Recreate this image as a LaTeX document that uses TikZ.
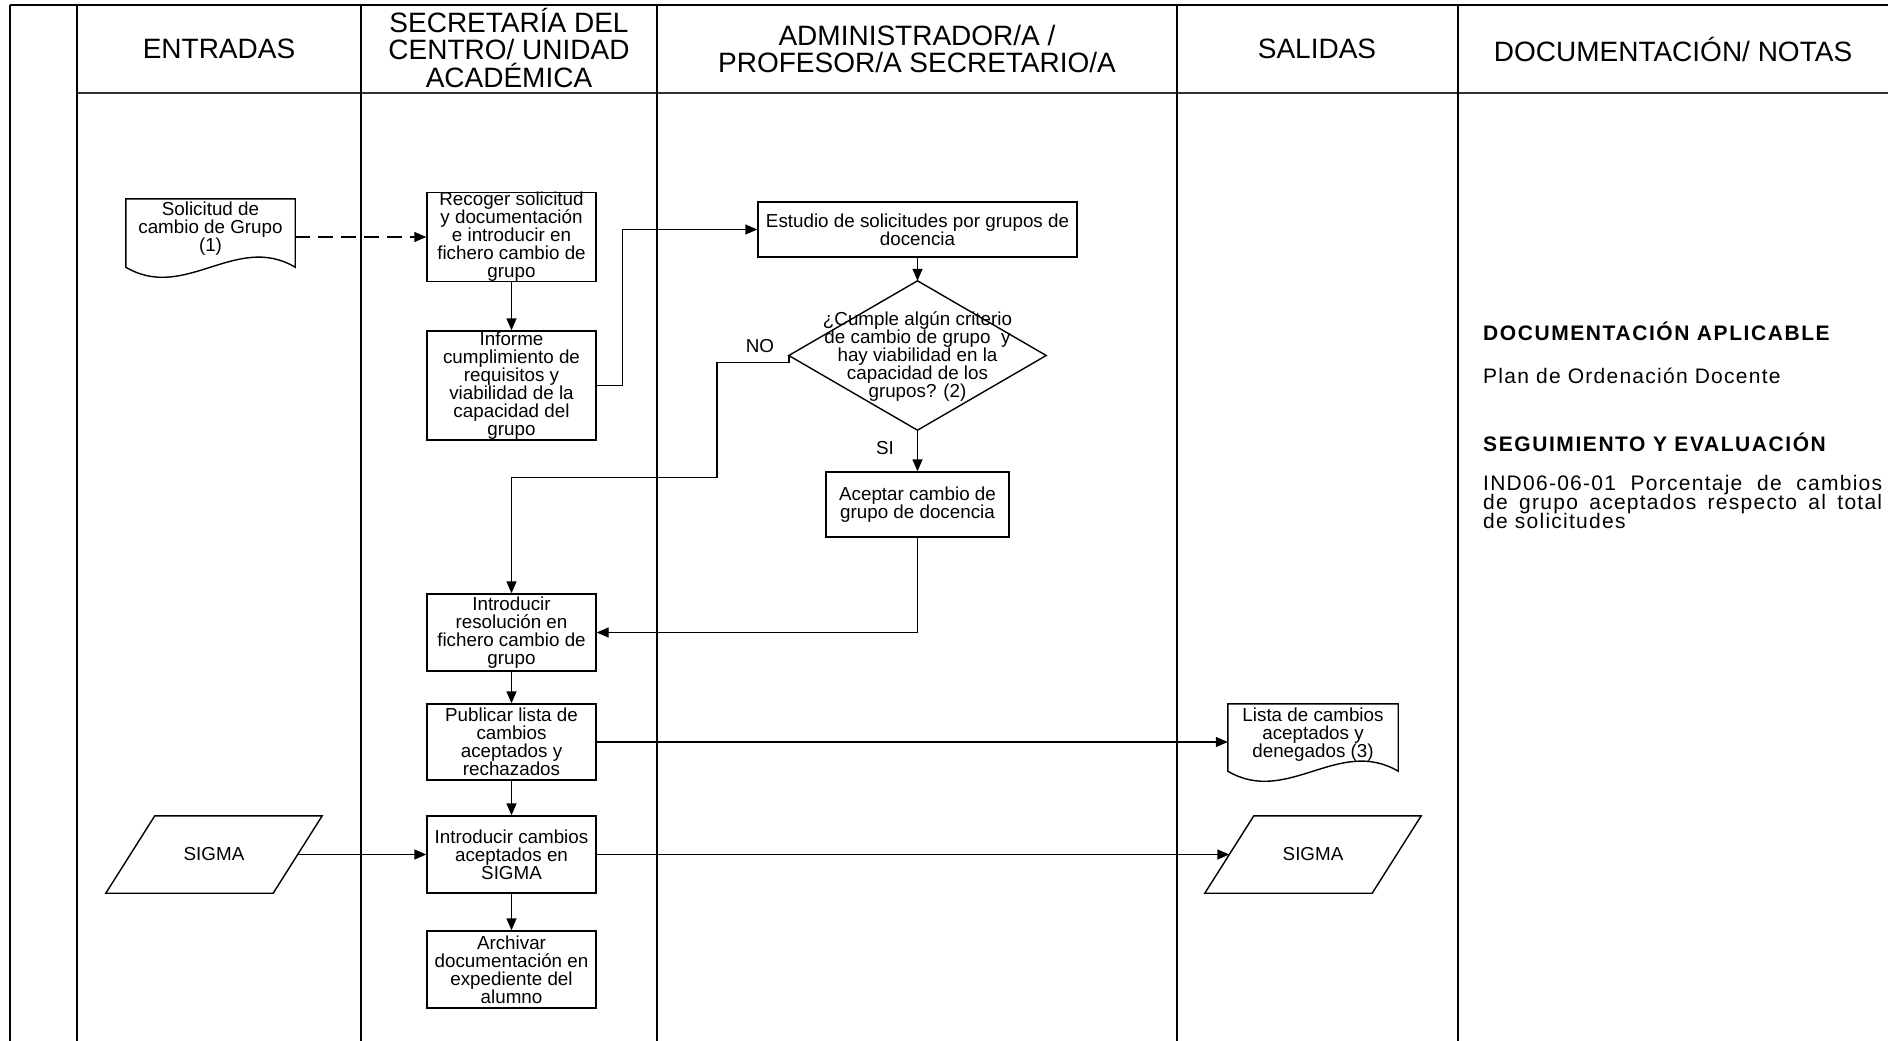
\documentclass[tikz,border=0pt]{standalone}
\usepackage{fontspec}
\setmainfont{Liberation Sans}
\newfontfamily\hdrfont{Liberation Sans}
\newfontfamily\boxfnt{Liberation Sans}
\newfontfamily\notefnt[LetterSpace=6]{Liberation Sans}
\newfontfamily\notebf[LetterSpace=7.5]{Liberation Sans}
\newcommand\nolsk{\lineskiplimit-100pt\relax}
\usetikzlibrary{arrows.meta,calc}
\begin{document}
\begin{tikzpicture}[x=1pt,y=-1pt,
  lane/.style={line width=2.4pt, black},
  hdr/.style={font={\hdrfont\fontsize{28}{27.5}\selectfont\nolsk}, align=center, inner sep=0},
  procbox/.style={draw, line width=1.4pt, inner sep=0, align=center, font={\boxfnt\fontsize{18.8}{18}\selectfont\nolsk}, minimum width=169pt},
  frame/.style={inner sep=0, align=center, font={\boxfnt\fontsize{18.8}{18}\selectfont\nolsk}},
  outl/.style={line width=1.4pt},
  arr/.style={line width=1.4pt, -{Triangle[length=12pt,width=10pt]}},
  lbl/.style={font={\boxfnt\fontsize{18.8}{18}\selectfont}, inner sep=0},
  note/.style={font={\notefnt\fontsize{21}{18.7}\selectfont\nolsk}, inner sep=0, anchor=west},
  notehead/.style={font={\notebf\bfseries\fontsize{21}{18.5}\selectfont}, inner sep=0, anchor=west}
]
\useasboundingbox (0,0) rectangle (1888,1041);
\fill[white] (0,0) rectangle (1888,1041);

% lanes
\draw[lane] (10,5) -- (1888,5);
\draw[lane, black!80] (77,93) -- (1888,93);
\foreach \x in {10,77,361,657,1177,1458} \draw[lane] (\x,5) -- (\x,1041);

% headers
\node[hdr] (hE) at (219,49) {ENTRADAS};
\node[hdr] (hS) at (509,47.5) {SECRETARÍA DEL\\CENTRO/ UNIDAD\\ACADÉMICA};
\node[hdr] (hA) at (917,49) {ADMINISTRADOR/A /\\PROFESOR/A SECRETARIO/A};
\node[hdr] (hO) at (1317,49) {SALIDAS};
\node[hdr] (hD) at (1673,49) {DOCUMENTACIÓN/ NOTAS};

% input document
\node[frame, minimum width=169pt, minimum height=60pt] (sol) at (210.5,229) {Solicitud de\\cambio de Grupo\\(1)};
\draw[outl] (sol.north west) -- (sol.north east) -- ($(sol.south east)+(0,8)$)
  .. controls ($(sol.south east)+(-59,-27)$) and ($(sol.south west)+(59,43)$) .. ($(sol.south west)+(0,8)$) -- cycle;

% process boxes
\node[procbox, minimum height=84pt] (rec) at (511.5,237) {Recoger solicitud\\y documentación\\e introducir en\\fichero cambio de\\grupo};
\node[procbox, minimum height=109pt] (inf) at (511.5,385.5) {Informe\\cumplimiento de\\requisitos y\\viabilidad de la\\capacidad del\\grupo};
\node[procbox, minimum width=319pt, minimum height=55pt] (est) at (917.5,229.5) {Estudio de solicitudes por grupos de\\docencia};
\node[frame, minimum width=257pt, minimum height=149pt] (dia) at (917.5,357) {¿Cumple algún criterio\\de cambio de grupo\ \ y\\hay viabilidad en la\\capacidad de los\\grupos? (2)};
\draw[outl] ($(dia.north)+(0,-1.5)$) -- ($(dia.east)+(0,-1.5)$) -- ($(dia.south)+(0,-1.5)$) -- ($(dia.west)+(0,-1.5)$) -- cycle;
\node[procbox, minimum width=183pt, minimum height=65pt] (acc) at (917.5,504.5) {Aceptar cambio de\\grupo de docencia};
\node[procbox, minimum height=77pt] (res) at (511.5,632.5) {Introducir\\resolución en\\fichero cambio de\\grupo};
\node[procbox, minimum height=76pt] (pub) at (511.5,742) {Publicar lista de\\cambios\\aceptados y\\rechazados};
\node[procbox, minimum height=77pt] (intc) at (511.5,854.5) {Introducir cambios\\aceptados en\\SIGMA};
\node[procbox, minimum height=77pt] (arch) at (511.5,969.5) {Archivar\\documentación en\\expediente del\\alumno};

% SIGMA parallelograms
\node[frame, minimum width=167pt, minimum height=77pt] (sigL) at (214,854.5) {SIGMA};
\draw[outl] ($(sigL.north west)+(24.5,0)$) -- ($(sigL.north east)+(24.5,0)$) -- ($(sigL.south east)+(-24.5,0)$) -- ($(sigL.south west)+(-24.5,0)$) -- cycle;
\node[frame, minimum width=167pt, minimum height=77pt] (sigR) at (1313,854.5) {SIGMA};
\draw[outl] ($(sigR.north west)+(24.5,0)$) -- ($(sigR.north east)+(24.5,0)$) -- ($(sigR.south east)+(-24.5,0)$) -- ($(sigR.south west)+(-24.5,0)$) -- cycle;

% output document
\node[frame, minimum width=170pt, minimum height=61pt] (lst) at (1313,734.5) {Lista de cambios\\aceptados y\\denegados (3)};
\draw[outl] (lst.north west) -- (lst.north east) -- ($(lst.south east)+(0,6)$)
  .. controls ($(lst.south east)+(-59.5,-29)$) and ($(lst.south west)+(59.5,41)$) .. ($(lst.south west)+(0,6)$) -- cycle;

% labels
\node[lbl] (lno) at (760,346) {NO};
\node[lbl] (lsi) at (885,448) {SI};

% connectors
\draw[arr, dash pattern=on 15pt off 8pt] (rec.west -| sol.east) -- (rec.west);
\draw[arr] (rec) -- (inf);
\draw[arr] (inf.east) -- ++(26,0) |- (est.west);
\draw[arr] (est) -- ($(dia.north)+(0,-1.5)$);
\draw[arr] ($(dia.west)+(0,-1.5)$) -- ++(0,7) -- ++(-72,0) -- ++(0,115) -| (res.north);
\draw[arr] ($(dia.south)+(0,-1.5)$) -- (acc);
\draw[arr] (acc.south) |- (res.east);
\draw[arr] (res) -- (pub);
\draw[arr] (pub) -- (intc);
\draw[arr] (intc) -- (arch);
\draw[arr] (pub.east) -- (pub.east -| lst.west);
\draw[arr] (sigL.east) -- (intc.west);
\draw[arr] (intc.east) -- (sigR.west);

% notes
\node[notehead] (n1) at (1483,331) {DOCUMENTACIÓN APLICABLE};
\node[note] (n2) at (1483,376) {Plan de Ordenación Docente};
\node[notehead] (n3) at (1483,442) {SEGUIMIENTO Y EVALUACIÓN};
\node[note, align=left] (n4) at (1483,502)
  {\makebox[399pt][s]{IND06-06-01 Porcentaje de cambios}\\\makebox[399pt][s]{de grupo aceptados respecto al total}\\de solicitudes};
\end{tikzpicture}
\end{document}
